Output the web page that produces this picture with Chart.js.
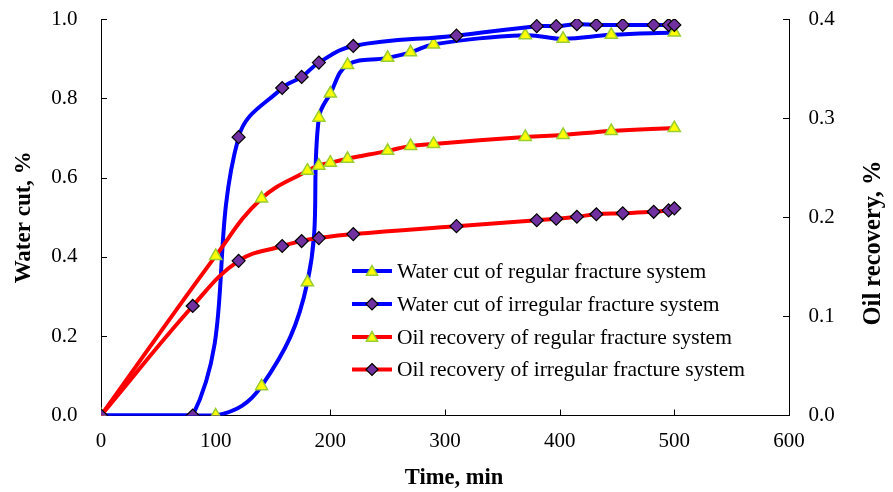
<!DOCTYPE html>
<html>
<head>
<meta charset="utf-8">
<script src="https://cdn.jsdelivr.net/npm/chart.js@4/dist/chart.umd.min.js"></script>
<style>
  html, body { margin: 0; padding: 0; background: #ffffff; }
  #wrap { width: 893px; height: 492px; }
</style>
</head>
<body>
<div id="wrap"><canvas id="c" width="893" height="492"></canvas></div>
<script>
// ---- Data ----
const timeRegular = [0, 100, 140, 180, 190, 200, 215, 250, 270, 290, 370, 403, 445, 500];
const waterCutRegular = [0, 0, 0.074, 0.336, 0.751, 0.812, 0.884, 0.902, 0.916, 0.936, 0.959, 0.950, 0.960, 0.966];
const oilRecoveryRegular = [0, 0.161, 0.219, 0.247, 0.252, 0.255, 0.259, 0.267, 0.272, 0.274, 0.281, 0.283, 0.287, 0.290];

const timeIrregular = [0, 80, 120, 158, 175, 190, 220, 310, 380, 397, 415, 432, 455, 482, 495, 500];
const waterCutIrregular = [0, 0, 0.702, 0.826, 0.854, 0.890, 0.932, 0.958, 0.982, 0.982, 0.987, 0.985, 0.985, 0.985, 0.985, 0.985];
const oilRecoveryIrregular = [0, 0.1105, 0.156, 0.171, 0.176, 0.179, 0.183, 0.191, 0.197, 0.1985, 0.2005, 0.203, 0.204, 0.2055, 0.207, 0.209];

const seriesLabels = [
  'Water cut of regular fracture system',
  'Water cut of irregular fracture system',
  'Oil recovery of regular fracture system',
  'Oil recovery of irregular fracture system'
];
const xTicks = [0, 100, 200, 300, 400, 500, 600];
const leftTicks = [0, 0.2, 0.4, 0.6, 0.8, 1.0];
const rightTicks = [0, 0.1, 0.2, 0.3, 0.4];
const xTitle = 'Time, min';
const leftTitle = 'Water cut, %';
const rightTitle = 'Oil recovery, %';

// ---- Build chart ----
const FONT = "'Liberation Serif', 'Times New Roman', serif";
const toXY = (xs, ys) => xs.map((x, i) => ({ x: x, y: ys[i] }));

const triStyle = { pointStyle: 'triangle', pointRadius: 7, pointHoverRadius: 7,
  pointBackgroundColor: '#ffff00', pointBorderColor: '#9acd32', pointBorderWidth: 1.5 };
const diaStyle = { pointStyle: 'rectRot', pointRadius: 6.5, pointHoverRadius: 6.5,
  pointBackgroundColor: '#7030a0', pointBorderColor: '#000000', pointBorderWidth: 1.2 };

const datasets = [
  Object.assign({ label: seriesLabels[0], data: toXY(timeRegular, waterCutRegular), yAxisID: 'y',
    borderColor: '#0000ff', order: 3 }, triStyle),
  Object.assign({ label: seriesLabels[1], data: toXY(timeIrregular, waterCutIrregular), yAxisID: 'y',
    borderColor: '#0000ff', order: 2 }, diaStyle),
  Object.assign({ label: seriesLabels[2], data: toXY(timeRegular, oilRecoveryRegular), yAxisID: 'y2',
    borderColor: '#ff0000', order: 1 }, triStyle),
  Object.assign({ label: seriesLabels[3], data: toXY(timeIrregular, oilRecoveryIrregular), yAxisID: 'y2',
    borderColor: '#ff0000', order: 0 }, diaStyle)
];
datasets.forEach(d => { d.borderWidth = 4; d.tension = 0.4; d.fill = false; d.showLine = true; });

function markerPath(ctx, style, x, y, r) {
  ctx.beginPath();
  if (style === 'triangle') {
    for (let k = 0; k < 3; k++) {
      const a = k * 2 * Math.PI / 3;
      const px = x + Math.sin(a) * r, py = y - Math.cos(a) * r;
      if (k === 0) ctx.moveTo(px, py); else ctx.lineTo(px, py);
    }
  } else {
    ctx.moveTo(x, y - r); ctx.lineTo(x + r, y); ctx.lineTo(x, y + r); ctx.lineTo(x - r, y);
  }
  ctx.closePath();
}

const decorPlugin = {
  id: 'decor',
  beforeDatasetsDraw(chart) {
    const ctx = chart.ctx, a = chart.chartArea, s = chart.scales;
    const L = 6;
    ctx.save();
    ctx.strokeStyle = '#000'; ctx.lineWidth = 1;
    ctx.beginPath();
    xTicks.forEach(v => { if (v > 0 && v < 600) { const px = Math.round(s.x.getPixelForValue(v)) + 0.5; ctx.moveTo(px, a.bottom); ctx.lineTo(px, a.bottom - L); } });
    leftTicks.forEach(v => { if (v > 0) { const py = Math.round(s.y.getPixelForValue(v)) + 0.5; ctx.moveTo(a.left, py); ctx.lineTo(a.left + L, py); } });
    rightTicks.forEach(v => { if (v > 0) { const py = Math.round(s.y2.getPixelForValue(v)) + 0.5; ctx.moveTo(a.right, py); ctx.lineTo(a.right - L, py); } });
    ctx.stroke();
    ctx.restore();
  },
  afterDraw(chart) {
    const ctx = chart.ctx;
    ctx.save();
    ctx.fillStyle = '#000';
    ctx.textAlign = 'center';
    ctx.textBaseline = 'middle';
    // x axis title
    ctx.font = "bold 22.5px " + FONT;
    ctx.fillText(xTitle, 454, 478);
    // right axis title (reads bottom to top)
    ctx.translate(874, 243);
    ctx.rotate(-Math.PI / 2);
    ctx.font = "bold 24.5px " + FONT;
    ctx.fillText(rightTitle, 0, 0);
    ctx.restore();

    // legend
    ctx.save();
    const lx0 = 352, lx1 = 392, tx = 397, rowY = [271, 304, 337, 369.5];
    chart.data.datasets.forEach((d, i) => {
      const y = rowY[i];
      ctx.strokeStyle = d.borderColor; ctx.lineWidth = 4; ctx.lineCap = 'butt';
      ctx.beginPath(); ctx.moveTo(lx0, y); ctx.lineTo(lx1, y); ctx.stroke();
      markerPath(ctx, d.pointStyle, (lx0 + lx1) / 2, d.pointStyle === 'triangle' ? y + 1 : y, d.pointStyle === 'triangle' ? 6.5 : 6);
      ctx.fillStyle = d.pointBackgroundColor; ctx.fill();
      ctx.strokeStyle = d.pointBorderColor; ctx.lineWidth = d.pointBorderWidth; ctx.stroke();
      ctx.fillStyle = '#000';
      ctx.font = "21.5px " + FONT;
      ctx.textAlign = 'left'; ctx.textBaseline = 'middle';
      ctx.fillText(d.label, tx, y + 1);
    });
    ctx.restore();
  }
};

function fixVertical(width) {
  return sc => { sc.width = width; sc.paddingTop = 0; sc.paddingBottom = 0; };
}

new Chart(document.getElementById('c'), {
  type: 'line',
  data: { datasets: datasets },
  plugins: [decorPlugin],
  options: {
    responsive: false,
    animation: false,
    devicePixelRatio: 1,
    layout: { padding: { top: 19, left: 0, right: 0, bottom: 0 } },
    plugins: { legend: { display: false }, tooltip: { enabled: false } },
    elements: { line: { capBezierPoints: true } },
    scales: {
      x: {
        type: 'linear', min: 0, max: 600,
        afterBuildTicks: sc => { sc.ticks = xTicks.map(v => ({ value: v })); },
        afterFit: sc => { sc.height = 76.5; sc.paddingLeft = 0; sc.paddingRight = 0; },
        grid: { display: true, drawOnChartArea: false, drawTicks: false },
        border: { display: true, color: '#000', width: 1 },
        ticks: { color: '#000', font: { family: FONT, size: 21 }, padding: 13, maxRotation: 0,
          callback: v => String(v) },
        title: { display: false }
      },
      y: {
        type: 'linear', position: 'left', min: 0, max: 1,
        afterBuildTicks: sc => { sc.ticks = leftTicks.map(v => ({ value: v })); },
        afterFit: fixVertical(101),
        grid: { display: true, drawOnChartArea: false, drawTicks: false },
        border: { display: true, color: '#000', width: 1 },
        ticks: { color: '#000', font: { family: FONT, size: 21 }, padding: 23.5,
          callback: v => Number(v).toFixed(1) },
        title: { display: true, text: leftTitle, color: '#000', font: { family: FONT, size: 23, weight: 'bold' },
          padding: { top: 10, bottom: 0 } }
      },
      y2: {
        type: 'linear', position: 'right', min: 0, max: 0.4,
        afterBuildTicks: sc => { sc.ticks = rightTicks.map(v => ({ value: v })); },
        afterFit: fixVertical(104),
        grid: { display: true, drawOnChartArea: false, drawTicks: false },
        border: { display: true, color: '#000', width: 1 },
        ticks: { color: '#000', font: { family: FONT, size: 21 }, padding: 19.5,
          callback: v => Number(v).toFixed(1) },
        title: { display: false }
      }
    }
  }
});
</script>
</body>
</html>
